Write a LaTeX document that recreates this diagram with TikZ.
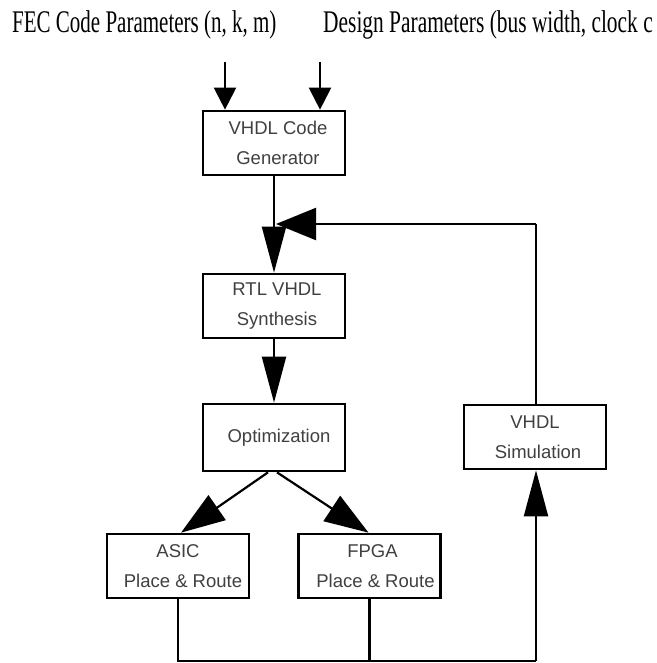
\documentclass[tikz,border=0pt]{standalone}
\usepackage{fontspec}
\setmainfont{Liberation Serif}
\newfontfamily\boxfont{Liberation Sans}
\usetikzlibrary{arrows.meta}
\tikzset{
  blk/.style={draw=black, line width=2.7pt, fill=white, minimum width=142pt, minimum height=64pt,
    inner sep=0pt, align=center, text=black!75, font=\boxfont\fontsize{18.5}{30}\selectfont},
  conn/.style={draw=black, line width=2.2pt},
  bigarr/.style={conn, -{Triangle[length=46pt,width=24pt]}},
  smallarr/.style={conn, -{Triangle[length=22pt,width=22pt]}},
  diagarr/.style={conn, -{Triangle[length=44pt,width=30pt]}},
  fbarr/.style={conn, -{Triangle[length=40pt,width=32pt]}},
  toptext/.style={anchor=base west, inner sep=0pt, font=\fontsize{21}{24}\selectfont}
}
\begin{document}
\begin{tikzpicture}[x=1pt,y=-1pt]
\useasboundingbox (0,0) rectangle (656,663);
% top texts
\node[toptext] (t1) at (12,33) {\scalebox{1}[1.5]{FEC Code Parameters (n, k, m)}};
\node[toptext] (t2) at (323,33) {\scalebox{1.02}[1.5]{Design Parameters (bus width, clock c}};
% boxes
\node[blk] (b1) at (274,143) {\hspace*{8pt}VHDL Code\\\hspace*{8pt}Generator};
\node[blk] (b2) at (274,306) {\hspace*{6pt}RTL VHDL\\\hspace*{6pt}Synthesis};
\node[blk, minimum height=67pt] (b3) at (274,437.5) {\hspace*{10pt}Optimization};
\node[blk] (b4) at (535,437) {VHDL\\\hspace*{6pt}Simulation};
\node[blk] (b5) at (178,566) {ASIC\\\hspace*{10pt}Place \& Route};
\node[blk] (b6) at (369.5,566) {\hspace*{6pt}FPGA\\\hspace*{12pt}Place \& Route};
% input coordinates
\coordinate (in1) at (225,62);
\coordinate (in2) at (320,62);
\draw[smallarr] (in1) -- (in1 |- b1.north);
\draw[smallarr] (in2) -- (in2 |- b1.north);
% main flow
\draw[bigarr] (b1.south) -- (b2.north);
\draw[bigarr] (b2.south) -- (b3.north);
\draw[diagarr] ([xshift=-6pt]b3.south) -- ([xshift=3pt]b5.north);
\draw[diagarr] ([xshift=3pt]b3.south) -- ([xshift=-1pt]b6.north);
% bottom bus
\coordinate (bl) at (178,661);
\coordinate (br) at (536,661);
\draw[conn] (b5.south) -- (bl) -- (br);
\draw[conn] (b6.south) -- (b6.south |- bl);
\draw[bigarr] (br) -- (br |- b4.south);
% feedback
\coordinate (fr) at (536,224);
\coordinate (fl) at (276,224);
\draw[conn] (br |- b4.north) -- (fr);
\draw[fbarr] (fr) -- (fl);
\end{tikzpicture}
\end{document}
